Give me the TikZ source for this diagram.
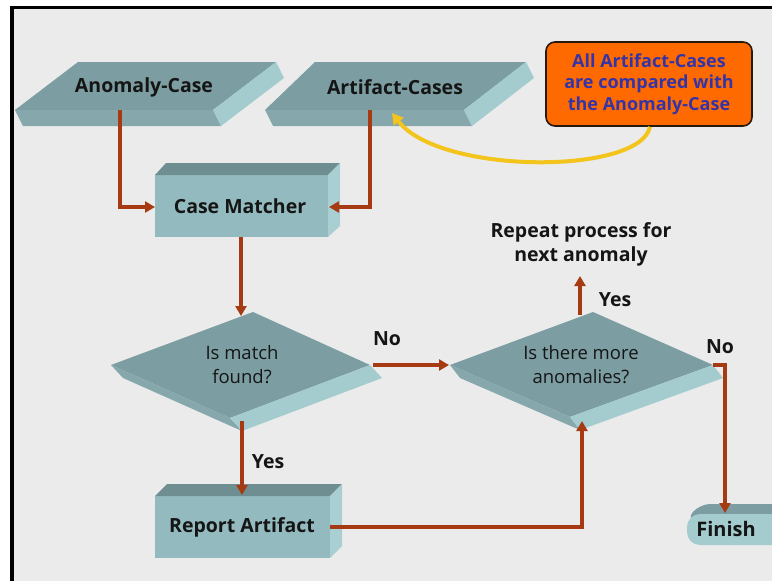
\documentclass[tikz,border=0pt]{standalone}
\usepackage{fontspec}
\setmainfont{Open Sans}
\usetikzlibrary{arrows.meta}

\definecolor{canvas}{HTML}{EBEBEB}
\definecolor{slabtop}{HTML}{7C9EA2}
\definecolor{slabfront}{HTML}{86A8AC}
\definecolor{slabside}{HTML}{A4CBCE}
\definecolor{boxfront}{HTML}{93BBBF}
\definecolor{boxtop}{HTML}{6F8E92}
\definecolor{boxside}{HTML}{A9CFD2}
\definecolor{flowline}{HTML}{A63A12}
\definecolor{calloutfill}{HTML}{FF6A00}
\definecolor{callouttext}{HTML}{3434A8}
\definecolor{hintline}{HTML}{F3C41C}
\definecolor{inktext}{HTML}{151515}

\tikzset{
  boldlabel/.style={font=\fontsize{19.5}{24}\selectfont\bfseries, text=inktext, inner sep=0pt, align=center},
  plainlabel/.style={font=\fontsize{18.5}{24}\selectfont, text=inktext, inner sep=0pt, align=center},
  flow/.style={draw=flowline, line width=3.4pt, -{Triangle[length=10pt,width=11pt]}},
  hint/.style={draw=hintline, line width=4pt, -{Triangle[length=11pt,width=12pt]}},
}

\begin{document}
\begin{tikzpicture}[x=1pt,y=-1pt]
\useasboundingbox (0,0) rectangle (772,581);
\fill[white] (0,0) rectangle (772,581);
\fill[black] (10,6) rectangle (772,581);
\fill[canvas] (14,9) rectangle (772,581);

\begin{scope}
\clip (14,9) rectangle (772,581);

% --- Anomaly-Case slab
\fill[slabtop]   (78,62) -- (276,62) -- (213,110) -- (15,110) -- cycle;
\fill[slabfront] (15,110) -- (213,110) -- (221,126) -- (23,126) -- cycle;
\fill[slabside]  (276,62) -- (284,78) -- (221,126) -- (213,110) -- cycle;
\node[boldlabel] (anomaly) at (144,87) {Anomaly-Case};
\coordinate (anomalyOut) at (120,110);

% --- Artifact-Cases slab
\fill[slabtop]   (315,62) -- (526,62) -- (464,110) -- (265,110) -- cycle;
\fill[slabfront] (265,110) -- (464,110) -- (472,126) -- (273,126) -- cycle;
\fill[slabside]  (526,62) -- (534,78) -- (472,126) -- (464,110) -- cycle;
\node[boldlabel] (artifacts) at (395,87) {Artifact-Cases};
\coordinate (artifactsOut) at (370,110);
\coordinate (artifactsHint) at (392,113);

% --- Case Matcher box
\fill[boxfront] (155,175) rectangle (328,237);
\fill[boxtop]   (155,175) -- (166,163) -- (340,163) -- (328,175) -- cycle;
\fill[boxside]  (328,175) -- (340,163) -- (340,226) -- (328,237) -- cycle;
\node[boldlabel] (matcher) at (240,206) {Case Matcher};
\coordinate (matcherW) at (155,207);
\coordinate (matcherE) at (329,207);
\coordinate (matcherS) at (241,237);

% --- Decision: Is match found?
\fill[slabtop]   (253,312) -- (370,365) -- (230,418) -- (111,365) -- cycle;
\fill[slabfront] (111,365) -- (230,418) -- (242,431) -- (123,378) -- cycle;
\fill[slabside]  (230,418) -- (370,365) -- (382,378) -- (242,431) -- cycle;
\node[plainlabel] (match) at (242,365) {Is match\\found?};
\coordinate (matchN) at (241,316);
\coordinate (matchE) at (373,365);
\coordinate (matchS) at (242,421);

% --- Decision: Is there more anomalies?
\fill[slabtop]   (593,312) -- (713,365) -- (570,417) -- (450,365) -- cycle;
\fill[slabfront] (450,365) -- (570,417) -- (580,430) -- (460,378) -- cycle;
\fill[slabside]  (570,417) -- (713,365) -- (723,378) -- (580,430) -- cycle;
\node[plainlabel] (more) at (581,365) {Is there more\\anomalies?};
\coordinate (moreW) at (449,365);
\coordinate (moreN) at (580,315);
\coordinate (moreE) at (713,365);
\coordinate (moreS) at (582,421);

% --- Report Artifact box
\fill[boxfront] (155,496) rectangle (330,558);
\fill[boxtop]   (155,496) -- (167,484) -- (342,484) -- (330,496) -- cycle;
\fill[boxside]  (330,496) -- (342,484) -- (342,546) -- (330,558) -- cycle;
\node[boldlabel] (report) at (242,527) {Report Artifact};
\coordinate (reportN) at (242,495);
\coordinate (reportE) at (330,527);

% --- Finish terminal
\fill[slabtop, rounded corners=10pt] (686,520) -- (700,504) -- (800,504) -- (800,530) -- cycle;
\fill[slabside, rounded corners=13pt] (687,514) rectangle (800,545);
\node[boldlabel, font=\fontsize{20}{24}\selectfont\bfseries] (finish) at (726,529) {Finish};
\coordinate (finishN) at (725,513);

% --- Repeat note
\node[boldlabel] (repeat) at (581,244) {Repeat process for\\next anomaly};
\coordinate (repeatS) at (580,276);

% --- Callout
\node[draw=black!80!brown, line width=1.6pt, fill=calloutfill, rounded corners=9pt,
      minimum width=206pt, minimum height=84pt, inner sep=0pt,
      font=\fontsize{18}{21.5}\selectfont\bfseries, text=callouttext, align=center]
      (callout) at (649,84) {All Artifact-Cases\\are compared with\\the Anomaly-Case};

% --- Connectors
\draw[flow] (anomalyOut) |- (matcherW);
\draw[flow] (artifactsOut) |- (matcherE);
\draw[flow] (matcherS) -- (matchN);
\draw[flow] (matchE) -- (moreW);
\draw[flow] (matchS) -- (reportN);
\draw[flow] (reportE) -| (moreS);
\draw[flow] (moreN) -- (repeatS);
\draw[flow] (moreE) -- ++(12,0) coordinate (moreTurn) -- (finishN);
\draw[hint] ([xshift=1pt]callout.south) .. controls (640,175) and (440,175) .. (artifactsHint);

% --- Branch labels
\node[boldlabel] (noMatch) at (387,339) {No};
\node[boldlabel] (yesMatch) at (268,462) {Yes};
\node[boldlabel] (yesMore) at (615,300) {Yes};
\node[boldlabel] (noMore) at (720,347) {No};
\end{scope}
\end{tikzpicture}
\end{document}
